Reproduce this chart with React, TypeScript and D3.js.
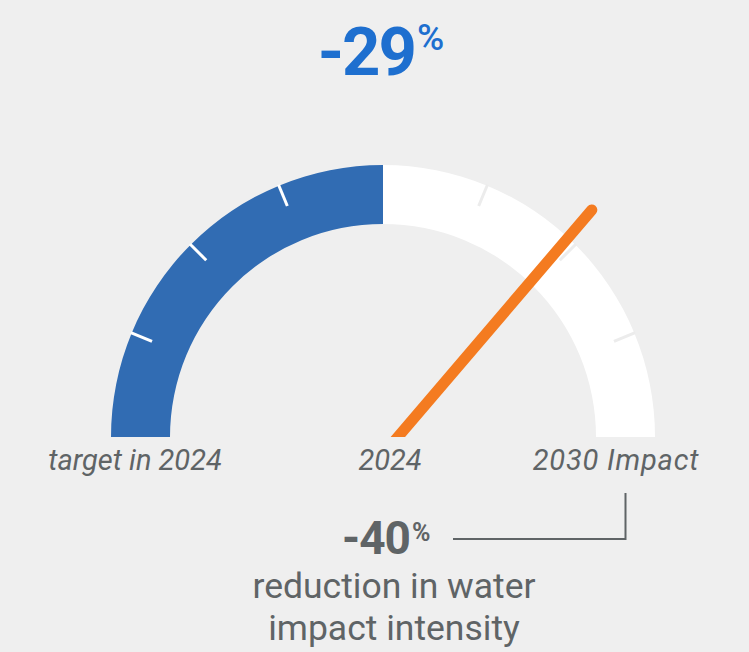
import React from "react";
import * as d3 from "d3";

const gaugeMax = 40;
const targetValue = 20;
const currentValue = 29;
const tickValues = [5, 10, 15, 25, 30, 35];
const headline = "-29";
const finalLabel = "-40";
const axisLabels = ["target in 2024", "2024", "2030 Impact"];
const captionLines = ["reduction in water", "impact intensity"];

const W = 749;
const H = 652;
const cx = 383;
const cy = 438;
const R = 272;
const r = 213;
const BG = "#efefef";
const BLUE = "#316cb3";
const ORANGE = "#f47b20";
const TITLE_BLUE = "#1e6fcf";
const GREY = "#5f6466";
const FONT = "Roboto, 'Noto Sans', sans-serif";

export default function App() {
  React.useEffect(() => {
    document.body.style.margin = "0";
    document.body.style.background = BG;
  }, []);

  const angle = d3.scaleLinear().domain([0, gaugeMax]).range([-Math.PI / 2, Math.PI / 2]);
  const arc = d3.arc<any>().innerRadius(r).outerRadius(R);
  const bluePath = arc({ startAngle: angle(0), endAngle: angle(targetValue) } as any) || "";
  const whitePath = arc({ startAngle: angle(targetValue), endAngle: angle(gaugeMax) } as any) || "";

  const ticks = tickValues.map((v) => {
    const a = angle(v);
    const s = Math.sin(a), c = -Math.cos(a);
    return {
      v,
      x1: cx + s * (R + 1),
      y1: cy + c * (R + 1),
      x2: cx + s * (R - 22),
      y2: cy + c * (R - 22),
      color: v < targetValue ? "#ffffff" : "#ececec",
    };
  });

  const na = angle(currentValue);
  const px = cx + 14;
  const ns = Math.sin(na), nc = -Math.cos(na);
  const needle = {
    x1: px + ns * -30,
    y1: cy + nc * -30,
    x2: px + ns * 300,
    y2: cy + nc * 300,
  };

  const endX = cx + (R + r) / 2 + 1;

  return (
    <div style={{ position: "fixed", left: 0, top: 0, width: W, height: H, background: BG }}>
      <svg width={W} height={H} style={{ display: "block", fontFamily: FONT }}>
        <defs>
          <clipPath id="above">
            <rect x={0} y={0} width={W} height={cy - 1} />
          </clipPath>
        </defs>
        <rect x={0} y={0} width={W} height={H} fill={BG} />
        <text x={415} y={75} textAnchor="end" fontSize={67} fontWeight={700} fill={TITLE_BLUE} letterSpacing={-2}>
          {headline}
        </text>
        <text x={417} y={50} fontSize={37} fontWeight={500} fill={TITLE_BLUE}>%</text>

        <g transform={`translate(${cx},${cy - 1})`}>
          <path d={bluePath} fill={BLUE} />
          <path d={whitePath} fill="#ffffff" />
        </g>
        {ticks.map((t) => (
          <line key={t.v} x1={t.x1} y1={t.y1 - 1} x2={t.x2} y2={t.y2 - 1} stroke={t.color} strokeWidth={3} />
        ))}
        <line
          x1={needle.x1}
          y1={needle.y1}
          x2={needle.x2}
          y2={needle.y2}
          stroke={ORANGE}
          strokeWidth={11}
          strokeLinecap="round"
          clipPath="url(#above)"
        />

        <text x={135} y={470} textAnchor="middle" fontSize={29} fontStyle="italic" fill={GREY}>
          {axisLabels[0]}
        </text>
        <text x={390} y={470} textAnchor="middle" fontSize={29} fontStyle="italic" fill={GREY}>
          {axisLabels[1]}
        </text>
        <text x={616} y={470} textAnchor="middle" fontSize={29} fontStyle="italic" fill={GREY} letterSpacing={0.8}>
          {axisLabels[2]}
        </text>

        <path
          d={`M${453},${539}H${endX - 1}V${493}`}
          fill="none"
          stroke={GREY}
          strokeWidth={2}
        />
        <text x={410} y={554} textAnchor="end" fontSize={46} fontWeight={700} fill={GREY} letterSpacing={-1}>
          {finalLabel}
        </text>
        <text x={412} y={541} fontSize={25} fontWeight={700} fill={GREY}>%</text>
        {captionLines.map((l, i) => (
          <text key={i} x={394} y={598 + i * 42} textAnchor="middle" fontSize={35.5} fill={GREY}>
            {l}
          </text>
        ))}
      </svg>
    </div>
  );
}
